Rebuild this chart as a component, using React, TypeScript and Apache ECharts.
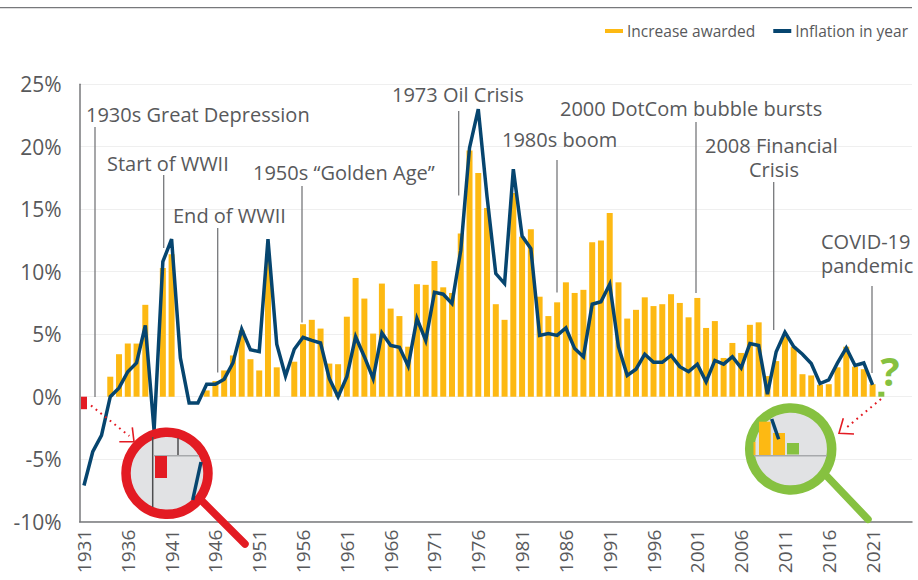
import React, { useEffect, useRef } from "react";
import * as echarts from "echarts";

const firstYear = 1931;
const years: string[] = Array.from({ length: 95 }, (_, i) => String(firstYear + i));

const increaseAwarded: number[] = [
  -1.0, 0, 0, 1.6, 3.4, 4.25, 4.25, 7.35, 0, 10.3, 11.4, 0, 0, 0, 0.5,
  1.25, 2.1, 3.3, 5.3, 3.0, 2.1, 11.3, 2.35, 0, 2.8, 5.8, 6.15, 5.45, 2.65,
  2.6, 6.4, 9.5, 7.85, 5.05, 9.05, 7.05, 6.45, 4.0, 9.0, 8.95, 10.85, 8.75,
  8.3, 13.05, 19.7, 17.9, 15.1, 7.4, 6.15, 16.3, 12.8, 13.4, 8.0, 6.45, 7.55,
  9.15, 8.3, 8.55, 12.35, 12.5, 14.7, 9.15, 6.25, 6.95, 7.95, 7.25, 7.4, 8.2,
  7.5, 6.35, 7.9, 5.5, 6.05, 3.1, 4.3, 3.5, 5.75, 5.95, 1.65, 2.85, 4.8, 4.0,
  1.8, 1.7, 0.95, 1.0, 2.35, 4.0, 2.4, 2.2, 1.0, 0.4,
];

const inflationInYear: number[] = [
  -7.1, -4.4, -3.1, 0, 0.7, 2.0, 2.7, 5.7, -2.7, 10.8, 12.6, 3.1, -0.5, -0.5, 1.0,
  1.0, 1.4, 2.7, 5.4, 3.75, 3.6, 12.6, 4.2, 1.65, 3.8, 4.75, 4.5, 4.3, 1.45,
  0, 1.6, 4.8, 3.2, 1.45, 5.1, 4.1, 3.95, 2.45, 6.25, 4.5, 8.35, 8.2,
  7.45, 11.7, 19.9, 23.0, 16.0, 9.85, 9.05, 18.2, 12.85, 11.85, 4.9, 5.05, 4.9,
  5.5, 3.85, 3.2, 7.4, 7.6, 9.0, 4.0, 1.7, 2.2, 3.4, 2.75, 2.75, 3.3,
  2.4, 2.0, 2.6, 1.2, 2.9, 2.6, 3.2, 2.3, 4.25, 4.1, 0.2, 3.6, 5.15, 4.0,
  3.4, 2.65, 1.05, 1.35, 2.7, 3.9, 2.5, 2.7, 0.95,
];

const yTicks = { min: -10, max: 25, interval: 5 };

const GREY = "#58595B";
const LEAD = "#77787B";
const YELLOW = "#FDB913";
const BLUE = "#06456F";
const RED = "#E31B23";
const GREEN = "#86C140";
const LENS = "#E1E2E4";
const FONT = '"Open Sans", sans-serif';
const FS = 20;

const notes: [string, number, number, string?][] = [
  ["1930s Great Depression", 86, 114],
  ["Start of WWII", 107, 163],
  ["End of WWII", 173, 215],
  ["1950s “Golden Age”", 253, 172],
  ["1973 Oil Crisis", 392, 94],
  ["1980s boom", 502, 139],
  ["2000 DotCom bubble bursts", 560, 108],
  ["2008 Financial", 705, 145],
  ["Crisis", 749, 169],
  ["COVID-19", 821, 241],
  ["pandemic", 821, 265],
];

const leaders: [number, number, number][] = [
  [95, 127, 397],
  [163.7, 175, 248],
  [217.7, 228, 372.5],
  [302, 186, 322.5],
  [458.7, 111, 195.5],
  [557, 160, 292.5],
  [696, 122, 293],
  [773.7, 182, 330],
  [872, 286, 373],
];

function buildGraphic(): any[] {
  const g: any[] = [];
  const Z = 50;
  const ln = (x1: number, y1: number, x2: number, y2: number, stroke: string, lineWidth: number, z = Z, extra: any = {}) => ({
    type: "line",
    z,
    shape: { x1, y1, x2, y2 },
    style: { stroke, lineWidth, ...extra },
  });
  const rc = (x: number, y: number, w: number, h: number, fill: string, z = Z + 2) => ({
    type: "rect",
    z,
    shape: { x, y, width: w, height: h },
    style: { fill },
  });
  g.push(ln(0, 7.7, 912, 7.7, "#77787B", 1.2, 1));
  leaders.forEach(([x, a, b]) => g.push(ln(x, a, x, b, LEAD, 1.3, 3)));
  notes.forEach(([t, x, y]) =>
    g.push({
      type: "text",
      z: 5,
      x,
      y,
      style: { text: t, fill: GREY, font: `${FS}px ${FONT}`, textVerticalAlign: "middle", verticalAlign: "middle" },
    })
  );
  g.push({
    type: "text",
    z: 5,
    x: 890,
    y: 370,
    style: { text: "?", fill: GREEN, font: `bold 40px ${FONT}`, align: "center", verticalAlign: "middle" },
  });

  // red lens
  g.push(ln(203, 502, 245, 544, RED, 7.5, Z, { lineCap: "round" }));
  g.push({ type: "circle", z: Z + 1, shape: { cx: 167, cy: 473.3, r: 41 }, style: { fill: LENS, stroke: RED, lineWidth: 9.5 } });
  g.push(ln(152.7, 437, 152.7, 507, "#4D4D4F", 1.5, Z + 2));
  g.push(ln(178, 438, 178, 455, "#4D4D4F", 1.5, Z + 2));
  g.push(ln(153, 455.7, 199, 455.7, "#A7A9AC", 1.5, Z + 2));
  g.push(rc(155, 456, 12, 22, RED));
  g.push(ln(201, 462, 192.7, 500, BLUE, 3.5, Z + 2));

  // green lens
  g.push(ln(826.7, 476, 868, 519.3, GREEN, 7.5, Z, { lineCap: "round" }));
  g.push({ type: "circle", z: Z + 1, shape: { cx: 790.7, cy: 449, r: 41 }, style: { fill: LENS, stroke: GREEN, lineWidth: 9.5 } });
  g.push(rc(753.5, 442, 2, 13, YELLOW));
  g.push(rc(759, 421.7, 11.7, 33.5, YELLOW));
  g.push(rc(773, 433, 12, 22, YELLOW));
  g.push(rc(787, 443, 12, 11.5, GREEN));
  g.push(ln(754, 455.7, 827, 455.7, "#A7A9AC", 1.5, Z + 2));
  g.push(ln(771.7, 419, 778.7, 439.3, BLUE, 3.5, Z + 3));

  // dotted arrows
  const dots = { lineDash: [1.8, 4.2] };
  g.push(ln(91, 405.5, 129.3, 436, RED, 2, 20, dots));
  g.push({ type: "polyline", z: 20, shape: { points: [[132.3, 427.3], [134, 441.7], [119.3, 441.7]] }, style: { stroke: RED, lineWidth: 1.6, fill: "none" } });
  g.push(ln(881, 399, 846, 428, RED, 2, 20, dots));
  g.push({ type: "polyline", z: 20, shape: { points: [[843.3, 418.3], [839, 433.3], [854, 434]] }, style: { stroke: RED, lineWidth: 1.6, fill: "none" } });
  return g;
}

export default function App() {
  const ref = useRef<HTMLDivElement>(null);
  useEffect(() => {
    const chart = echarts.init(ref.current!, undefined, { renderer: "svg" });
    chart.setOption({
      animation: false,
      grid: { left: 79.6, right: 6, top: 84.2, height: 437.5, containLabel: false },
      legend: {
        right: 5,
        top: 18,
        itemGap: 18,
        itemWidth: 18,
        itemHeight: 4,
        textStyle: { color: GREY, fontFamily: FONT, fontSize: 15.5, padding: [0, 0, 0, -1] },
        data: [
          { name: "Increase awarded", icon: "rect", itemStyle: { color: YELLOW } },
          { name: "Inflation in year", icon: "rect", itemStyle: { color: BLUE } },
        ],
      },
      xAxis: {
        type: "category",
        data: years,
        position: "bottom",
        axisLine: { onZero: false, lineStyle: { color: "#77787B", width: 1.5 } },
        axisTick: { show: false },
        axisLabel: {
          interval: 4,
          rotate: 90,
          margin: 8,
          color: GREY,
          fontFamily: FONT,
          fontSize: 19,
          padding: [8, 0, 0, 0],
          hideOverlap: false,
        },
      },
      yAxis: {
        type: "value",
        ...yTicks,
        axisLine: { show: true, lineStyle: { color: "#77787B", width: 1.5 } },
        axisTick: { show: false },
        splitLine: { show: true, lineStyle: { color: "#EFEFEF", width: 1 } },
        axisLabel: {
          margin: 18,
          color: GREY,
          fontFamily: FONT,
          fontSize: 21,
          formatter: (v: number) => `${v}%`,
        },
      },
      series: [
        {
          name: "Increase awarded",
          type: "bar",
          barWidth: 6,
          itemStyle: { color: YELLOW },
          data: increaseAwarded.map((v, i) => {
            if (i === 0) return { value: v, itemStyle: { color: RED } };
            if (i === increaseAwarded.length - 1) return { value: v, itemStyle: { color: GREEN } };
            return v;
          }),
        },
        {
          name: "Inflation in year",
          type: "line",
          symbol: "none",
          smooth: false,
          z: 4,
          lineStyle: { color: BLUE, width: 3.5, join: "miter", miterLimit: 10 },
          itemStyle: { color: BLUE },
          data: inflationInYear,
        },
      ],
      graphic: buildGraphic(),
    });
    return () => chart.dispose();
  }, []);
  return <div ref={ref} style={{ position: "absolute", left: 0, top: 0, width: 918, height: 580 }} />;
}
